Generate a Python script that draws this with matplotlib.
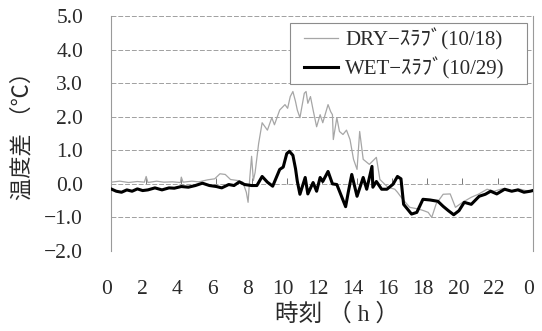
import matplotlib
matplotlib.use("Agg")
import matplotlib.pyplot as plt
import matplotlib.transforms as mtransforms
from matplotlib.patches import Rectangle

# Hourly temperature difference, DRY slab (10/18)
dry_time = [0.0, 0.5, 1.0, 1.5, 1.9, 2.0, 2.1, 2.6, 3.0, 3.5, 3.95, 4.0, 4.1, 4.6,
            5.0, 5.5, 5.9, 6.2, 6.5, 6.8, 7.2, 7.5, 7.7, 7.8, 7.9, 8.0, 8.1, 8.2,
            8.4, 8.6, 8.9, 9.15, 9.3, 9.6, 9.9, 10.05, 10.2, 10.35, 10.5, 10.6,
            10.75, 11.0, 11.1, 11.2, 11.35, 11.5, 11.7, 11.9, 12.05, 12.35, 12.5,
            12.6, 12.65, 12.85, 13.0, 13.2, 13.4, 13.6, 13.8, 14.0, 14.15, 14.35,
            14.7, 15.1, 15.3, 15.75, 16.15, 16.3, 16.6, 17.0, 17.5, 17.8, 18.05,
            18.25, 18.5, 18.9, 19.3, 19.6, 20.0, 20.5, 20.9, 21.4, 21.8, 22.3,
            22.8, 23.2, 23.6, 24.0]
dry_diff = [0.05, 0.08, 0.04, 0.07, 0.05, 0.22, 0.04, 0.08, 0.05, 0.06, 0.04, 0.20,
            0.05, 0.08, 0.06, 0.12, 0.15, 0.30, 0.28, 0.13, 0.10, 0.05, -0.25, -0.55,
            0.20, 0.82, 0.10, 0.34, 1.20, 1.82, 1.60, 1.97, 1.76, 2.20, 2.36, 2.25,
            2.60, 2.75, 2.45, 2.20, 1.97, 2.70, 2.75, 2.40, 2.60, 2.20, 1.70, 2.06,
            1.82, 2.36, 2.15, 2.06, 1.32, 1.97, 1.56, 1.47, 1.60, 1.32, 0.73, 0.43,
            1.56, 0.73, 0.58, 0.79, 0.13, -0.10, -0.16, -0.25, -0.46, -0.70, -0.75,
            -0.80, -0.85, -1.00, -0.60, -0.31, -0.30, -0.70, -0.55, -0.40, -0.31,
            -0.16, -0.22, -0.14, -0.22, -0.15, -0.20, -0.20]

# Hourly temperature difference, WET slab (10/29)
wet_time = [0.0, 0.3, 0.6, 0.9, 1.2, 1.5, 1.8, 2.1, 2.5, 2.9, 3.3, 3.6, 4.0, 4.4,
            4.8, 5.2, 5.6, 6.0, 6.3, 6.7, 7.0, 7.3, 7.6, 8.0, 8.3, 8.6, 8.9, 9.2,
            9.6, 9.8, 10.0, 10.15, 10.35, 10.5, 10.6, 10.75, 11.05, 11.2, 11.5,
            11.7, 11.9, 12.05, 12.35, 12.6, 12.85, 13.1, 13.35, 13.5, 13.7, 14.0,
            14.35, 14.55, 14.85, 14.9, 15.1, 15.4, 15.7, 16.05, 16.3, 16.5, 16.65,
            17.1, 17.4, 17.75, 18.15, 18.6, 18.9, 19.2, 19.5, 19.8, 20.1, 20.5,
            20.95, 21.3, 21.6, 21.95, 22.4, 22.8, 23.15, 23.5, 23.85, 24.0]
wet_diff = [-0.15, -0.22, -0.25, -0.18, -0.22, -0.15, -0.20, -0.18, -0.12, -0.18,
            -0.12, -0.13, -0.08, -0.10, -0.05, 0.02, -0.05, -0.08, -0.12, -0.02,
            -0.05, 0.06, -0.02, -0.05, -0.05, 0.22, 0.05, -0.07, 0.43, 0.50, 0.90,
            0.97, 0.85, 0.45, 0.08, -0.31, 0.19, -0.30, 0.04, -0.22, 0.19, 0.07,
            0.37, 0.00, -0.02, -0.35, -0.68, -0.25, 0.28, -0.37, 0.19, -0.16, 0.52,
            -0.10, 0.07, -0.16, -0.16, -0.01, 0.22, 0.15, -0.61, -0.90, -0.85,
            -0.46, -0.48, -0.52, -0.67, -0.80, -0.92, -0.80, -0.55, -0.61, -0.37,
            -0.31, -0.22, -0.30, -0.16, -0.22, -0.18, -0.25, -0.22, -0.20]

x_ticks = list(range(0, 25, 2))
x_tick_labels = ["0", "2", "4", "6", "8", "10", "12", "14", "16", "18", "20", "22", "0"]
y_ticks = [-2, -1, 0, 1, 2, 3, 4, 5]
y_tick_labels = ["\u22122.0", "\u22121.0", "0.0", "1.0", "2.0", "3.0", "4.0", "5.0"]

series_labels = ["DRY\u2212\uff7d\uff97\uff8c\uff9e(10/18)", "WET\u2212\uff7d\uff97\uff8c\uff9e(10/29)"]

serif = ["Liberation Serif", "Noto Sans CJK JP"]
text_color = "#2a2a2a"

fig = plt.figure(figsize=(5.42, 3.31), dpi=100)
ax = fig.add_axes([0.2048, 0.2417, 0.7782, 0.71])

ax.plot(dry_time, dry_diff, color="#a6a6a6", lw=0.9, label=series_labels[0], zorder=3)
ax.plot(wet_time, wet_diff, color="black", lw=2.2, label=series_labels[1], zorder=4)

ax.set_xlim(0, 24)
ax.set_ylim(-2, 5)
ax.set_xticks(x_ticks)
ax.set_xticklabels(x_tick_labels, family=serif, fontsize=15.5)
ax.set_yticks(y_ticks)
ax.set_yticklabels(y_tick_labels, family=serif, fontsize=15.5)
ax.tick_params(axis="both", length=0, colors=text_color)
ax.tick_params(axis="x", pad=21)
ax.tick_params(axis="y", pad=20)

# nudge the hour labels slightly to the left
offset = mtransforms.ScaledTranslation(-4 / 100, 0, fig.dpi_scale_trans)
for lbl in ax.get_xticklabels():
    lbl.set_transform(lbl.get_transform() + offset)

ax.yaxis.grid(True, color="#a0a0a0", lw=0.7, linestyle=(0, (5, 2)))
ax.set_axisbelow(True)
for side in ["top", "bottom"]:
    ax.spines[side].set_visible(False)
for side in ["left", "right"]:
    ax.spines[side].set_color("#9a9a9a")
    ax.spines[side].set_linewidth(0.8)

# hour tick marks standing on the zero line
sec = ax.secondary_xaxis(2 / 7)
sec.set_xticks(x_ticks)
sec.tick_params(direction="in", length=4, width=0.7, color="#777777",
                labelbottom=False, labeltop=False)
sec.spines["bottom"].set_visible(False)

ax.set_ylabel("温度差 （℃）", family=serif, fontsize=16, color=text_color)
ax.yaxis.set_label_coords(-0.185, 0.515)
ax.set_xlabel("時刻 （ h ）", family=serif, fontsize=17, color=text_color)
ax.xaxis.set_label_coords(0.535, -0.222)

# legend entries, with a separately drawn rectangular frame
leg = ax.legend(loc="upper left", bbox_to_anchor=(0.436, 0.987),
                prop={"family": serif, "size": 15},
                frameon=False, handlelength=1.6, handletextpad=0.35,
                borderpad=0.45, labelspacing=0.3, borderaxespad=0)
for t in leg.get_texts():
    t.set_color(text_color)
ax.add_patch(Rectangle((0.424, 0.711), 0.562, 0.259, transform=ax.transAxes,
                       facecolor="white", edgecolor="#8c8c8c", lw=0.8, zorder=5))
leg.set_zorder(6)

fig.savefig("out.png", dpi=100)
